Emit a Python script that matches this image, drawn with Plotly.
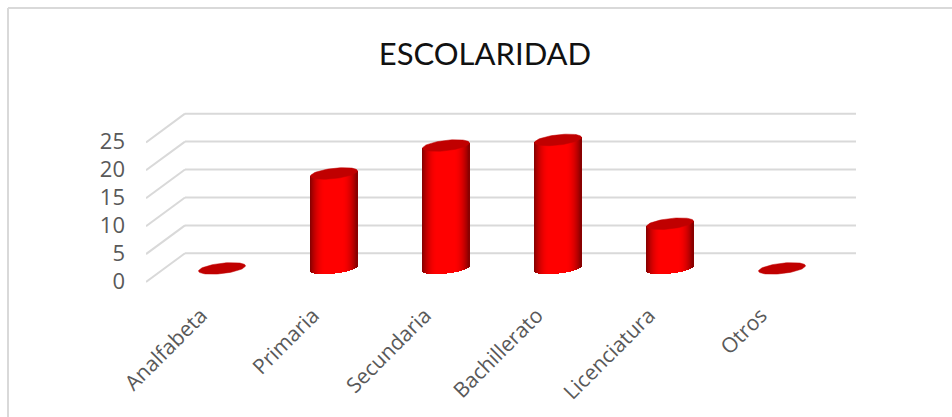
import math
import plotly.graph_objects as go

categories = ["Analfabeta", "Primaria", "Secundaria", "Bachillerato", "Licenciatura", "Otros"]
values = [0, 17, 22, 23, 8, 0]
y_ticks = [0, 5, 10, 15, 20, 25]
title_text = "ESCOLARIDAD"

W, H = 952, 417
L, R, T, B = 146, 856, 100, 292      # plot area, px
PX_PER_UNIT = 5.585
Y0_PX = 282                          # front-edge zero, px
PX_PER_CAT = 112
X0_PX = 222

y_range = [(Y0_PX - B) / PX_PER_UNIT, (Y0_PX - T) / PX_PER_UNIT]
x_range = [(L - X0_PX) / PX_PER_CAT, (R - X0_PX) / PX_PER_CAT]

BACK_DY = 28.7 / PX_PER_UNIT         # floor depth in value units
BASE_DY = 13.6 / PX_PER_UNIT         # cylinders stand mid-floor
BACK_X = x_range[0] + (185 - L) / PX_PER_CAT
A = 23.5 / PX_PER_CAT                # ellipse half-width
BE = 5.2 / PX_PER_UNIT               # ellipse half-height
SHEAR = 2.6 / PX_PER_UNIT            # tilt at the right end
N_STRIPS = 47
GRID = "#D9D9D9"


def shade(u):
    t = min(1.0, abs(u) / 1.0)
    k = max(0.0, (t - 0.35) / 0.65) ** 2.0
    r = int(round(255 - k * 125))
    return f"rgb({r},0,0)"


fig = go.Figure()

# Cylinder bodies, built as narrow vertical strips
sw = 2 * A / N_STRIPS
for i in range(N_STRIPS):
    u = -1 + (i + 0.5) * 2 / N_STRIPS
    arc = math.sqrt(1 - u * u) * BE
    bases, heights = [], []
    for v in values:
        bases.append(BASE_DY + SHEAR * u - arc)
        heights.append(v + arc if v > 0 else 0)
    fig.add_trace(go.Bar(
        x=list(range(len(categories))), y=heights, base=bases,
        width=sw * 1.25, offset=A * u - sw * 0.6,
        marker=dict(color=shade(u), line=dict(width=0)),
        showlegend=False, hoverinfo="skip",
    ))

# Top faces
for i, v in enumerate(values):
    n = 72
    xs, ys = [], []
    for k in range(n + 1):
        th = 2 * math.pi * k / n
        xs.append(i + A * math.cos(th))
        ys.append(v + BASE_DY + BE * math.sin(th) + SHEAR * math.cos(th))
    fig.add_trace(go.Scatter(
        x=xs, y=ys, mode="lines", fill="toself",
        fillcolor="#C00000", line=dict(color="#C00000", width=0.5),
        showlegend=False, hoverinfo="skip",
    ))

# Back-wall gridlines and floor/side diagonals
shapes = []
for t in y_ticks:
    shapes.append(dict(type="line", layer="below", xref="x", yref="y",
                       x0=BACK_X, x1=x_range[1], y0=t + BACK_DY, y1=t + BACK_DY,
                       line=dict(color=GRID, width=2)))
    shapes.append(dict(type="line", layer="below", xref="x", yref="y",
                       x0=x_range[0], x1=BACK_X, y0=t, y1=t + BACK_DY,
                       line=dict(color=GRID, width=2)))

# Chart frame (only top and left edges fall inside the picture)
pw, ph = R - L, B - T
fx = lambda px: (px - L) / pw
fy = lambda py: (B - py) / ph
for x0, y0, x1, y1 in [(8, 8, W, 8), (8, 8, 8, H)]:
    shapes.append(dict(type="line", xref="paper", yref="paper",
                       x0=fx(x0), x1=fx(x1), y0=fy(y0), y1=fy(y1),
                       line=dict(color=GRID, width=2)))

fig.update_layout(
    width=W, height=H,
    margin=dict(l=L, r=W - R, t=T, b=H - B, pad=0),
    paper_bgcolor="white", plot_bgcolor="rgba(0,0,0,0)",
    barmode="overlay", bargap=0,
    showlegend=False,
    title=dict(text=title_text, x=485 / W, xanchor="center", y=1 - 54 / H, yanchor="middle",
               font=dict(family="Lato", size=31, color="#111111")),
    shapes=shapes,
    xaxis=dict(range=x_range, tickmode="array", tickvals=list(range(len(categories))),
               ticktext=categories, tickangle=-45, showgrid=False, zeroline=False,
               showline=False, ticks="", ticklabelshift=-21, ticklabelstandoff=6,
               tickfont=dict(family="Open Sans", size=21, color="#595959")),
    yaxis=dict(range=y_range, tickmode="array", tickvals=y_ticks, showgrid=False, zeroline=False,
               showline=False, ticks="", ticklabelstandoff=20, ticklabelshift=-1,
               tickfont=dict(family="Open Sans", size=22, color="#595959")),
)

fig.write_html("out.html", config={"displayModeBar": False},
               post_script="document.body.style.margin='0';document.body.style.overflow='hidden';")
